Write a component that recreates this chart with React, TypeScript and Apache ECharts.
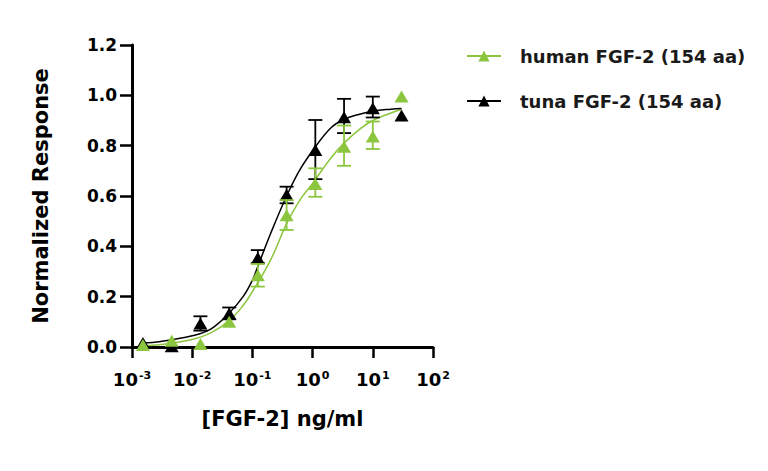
import React, { useEffect, useRef } from "react";
import * as echarts from "echarts";

// concentrations (ng/ml)
const conc = [0.00152, 0.00457, 0.0137, 0.0412, 0.123, 0.37, 1.11, 3.33, 10, 30];

// human FGF-2 measured points
const humanMean = [0.008, 0.025, 0.012, 0.1, 0.285, 0.524, 0.648, 0.796, 0.836, 0.995];
const humanLow = [null, null, null, null, 0.24, 0.465, 0.597, 0.72, 0.787, null];
const humanHigh = [null, null, null, null, 0.33, 0.584, 0.71, 0.88, 0.896, null];

// tuna FGF-2 measured points
const tunaMean = [0.016, 0.003, 0.093, 0.133, 0.354, 0.605, 0.783, 0.913, 0.949, 0.92];
const tunaLow = [null, null, 0.065, 0.11, 0.333, 0.571, 0.667, 0.85, 0.912, null];
const tunaHigh = [null, null, 0.122, 0.157, 0.385, 0.637, 0.902, 0.986, 0.995, null];

// fitted curves
const humanCurveX = [0.0015, 0.003, 0.01, 0.02, 0.0412, 0.07, 0.1, 0.2, 0.37, 0.6, 1.0, 2.0, 3.33, 6, 10, 20, 30];
const humanCurveY = [0.006, 0.01, 0.03, 0.055, 0.105, 0.165, 0.22, 0.345, 0.49, 0.58, 0.65, 0.75, 0.81, 0.865, 0.9, 0.93, 0.945];
const tunaCurveX = [0.0015, 0.003, 0.01, 0.02, 0.0412, 0.07, 0.1, 0.123, 0.2, 0.37, 0.6, 1.0, 2.0, 3.33, 6, 10, 20, 30];
const tunaCurveY = [0.016, 0.022, 0.045, 0.07, 0.135, 0.2, 0.265, 0.32, 0.45, 0.6, 0.7, 0.78, 0.87, 0.905, 0.925, 0.937, 0.945, 0.948];

const yTicks = [0, 0.2, 0.4, 0.6, 0.8, 1.0, 1.2];

const GREEN = "#8cc63e";
const BLACK = "#000000";
const FONT = "DejaVu Sans";
const humanName = "human FGF-2 (154 aa)";
const tunaName = "tuna FGF-2 (154 aa)";

function pairs(xs: number[], ys: (number | null)[]) {
  return xs.map((x, i) => [x, ys[i]]);
}
function errData(low: (number | null)[], high: (number | null)[]) {
  const out: number[][] = [];
  conc.forEach((x, i) => {
    if (low[i] != null && high[i] != null) out.push([x, low[i] as number, high[i] as number]);
  });
  return out;
}

function errorSeries(name: string, color: string, data: number[][], z: number) {
  return {
    type: "custom",
    name,
    data,
    z,
    encode: { x: 0, y: [1, 2] },
    renderItem: (params: any, api: any) => {
      const x = api.value(0);
      const lo = api.coord([x, api.value(1)]);
      const hi = api.coord([x, api.value(2)]);
      const hw = 7;
      const style = { stroke: color, lineWidth: 1.8 };
      return {
        type: "group",
        children: [
          { type: "line", shape: { x1: lo[0], y1: lo[1], x2: hi[0], y2: hi[1] }, style },
          { type: "line", shape: { x1: lo[0] - hw, y1: lo[1], x2: lo[0] + hw, y2: lo[1] }, style },
          { type: "line", shape: { x1: hi[0] - hw, y1: hi[1], x2: hi[0] + hw, y2: hi[1] }, style },
        ],
      };
    },
  };
}

export default function App() {
  const ref = useRef<HTMLDivElement>(null);
  useEffect(() => {
    if (!ref.current) return;
    const chart = echarts.init(ref.current, null, { renderer: "svg" });
    chart.setOption({
      animation: false,
      backgroundColor: "#ffffff",
      legend: {
        orient: "vertical",
        left: 466,
        top: 47,
        padding: 0,
        itemWidth: 34,
        itemHeight: 14,
        itemGap: 27,
        data: [humanName, tunaName],
        textStyle: {
          fontFamily: FONT,
          fontWeight: "bold",
          fontSize: 18,
          color: "#1a1a1a",
          padding: [0, 0, 0, 14],
        },
      },
      grid: { left: 132, right: 335, top: 45, bottom: 124, containLabel: false },
      xAxis: {
        type: "log",
        logBase: 10,
        min: 0.001,
        max: 100,
        name: "[FGF-2] ng/ml",
        nameLocation: "middle",
        nameGap: 61,
        nameTextStyle: { fontFamily: FONT, fontWeight: "bold", fontSize: 21, color: "#000" },
        axisLine: { onZero: false, lineStyle: { color: "#000", width: 3 } },
        axisTick: { length: 11, lineStyle: { color: "#000", width: 2.5 } },
        minorTick: { show: false },
        splitLine: { show: false },
        axisLabel: {
          margin: 22,
          formatter: (v: number) => `{b|10}{s|${Math.round(Math.log10(v))}}`,
          rich: {
            b: { fontFamily: FONT, fontWeight: "bold", fontSize: 18, color: "#000", lineHeight: 20 },
            s: { fontFamily: FONT, fontWeight: "bold", fontSize: 11, color: "#000", verticalAlign: "top", lineHeight: 14, padding: [1, 0, 0, 1] },
          },
        },
      },
      yAxis: {
        type: "value",
        min: 0,
        max: 1.2,
        interval: 0.2,
        name: "Normalized Response",
        nameLocation: "middle",
        nameGap: 81,
        nameTextStyle: { fontFamily: FONT, fontWeight: "bold", fontSize: 21, color: "#000" },
        axisLine: { show: true, lineStyle: { color: "#000", width: 3 } },
        axisTick: { show: true, length: 12, lineStyle: { color: "#000", width: 2.5 } },
        splitLine: { show: false },
        axisLabel: {
          margin: 15,
          fontFamily: FONT,
          fontWeight: "bold",
          fontSize: 17,
          color: "#000",
          formatter: (v: number) => (yTicks.some((t) => Math.abs(t - v) < 1e-9) ? v.toFixed(1) : ""),
        },
      },
      series: [
        {
          type: "line",
          name: humanName,
          data: pairs(humanCurveX, humanCurveY),
          smooth: 0.4,
          showSymbol: false,
          symbol: "triangle",
          symbolSize: 14,
          itemStyle: { color: GREEN },
          lineStyle: { color: GREEN, width: 1.5 },
          z: 2,
        },
        {
          type: "line",
          name: tunaName,
          data: pairs(tunaCurveX, tunaCurveY),
          smooth: 0.4,
          showSymbol: false,
          symbol: "triangle",
          symbolSize: 14,
          itemStyle: { color: BLACK },
          lineStyle: { color: BLACK, width: 1.5 },
          z: 2,
        },
        errorSeries("tunaErr", BLACK, errData(tunaLow, tunaHigh), 3),
        {
          type: "scatter",
          name: "tunaPts",
          data: pairs(conc, tunaMean),
          symbol: "triangle",
          symbolSize: [14, 12],
          itemStyle: { color: BLACK, opacity: 1 },
          z: 4,
        },
        errorSeries("humanErr", GREEN, errData(humanLow, humanHigh), 5),
        {
          type: "scatter",
          name: "humanPts",
          data: pairs(conc, humanMean),
          symbol: "triangle",
          symbolSize: [14, 12],
          itemStyle: { color: GREEN, opacity: 1 },
          z: 6,
        },
      ],
    });
    return () => chart.dispose();
  }, []);
  return <div ref={ref} style={{ position: "fixed", left: 0, top: 0, width: 768, height: 471 }} />;
}
